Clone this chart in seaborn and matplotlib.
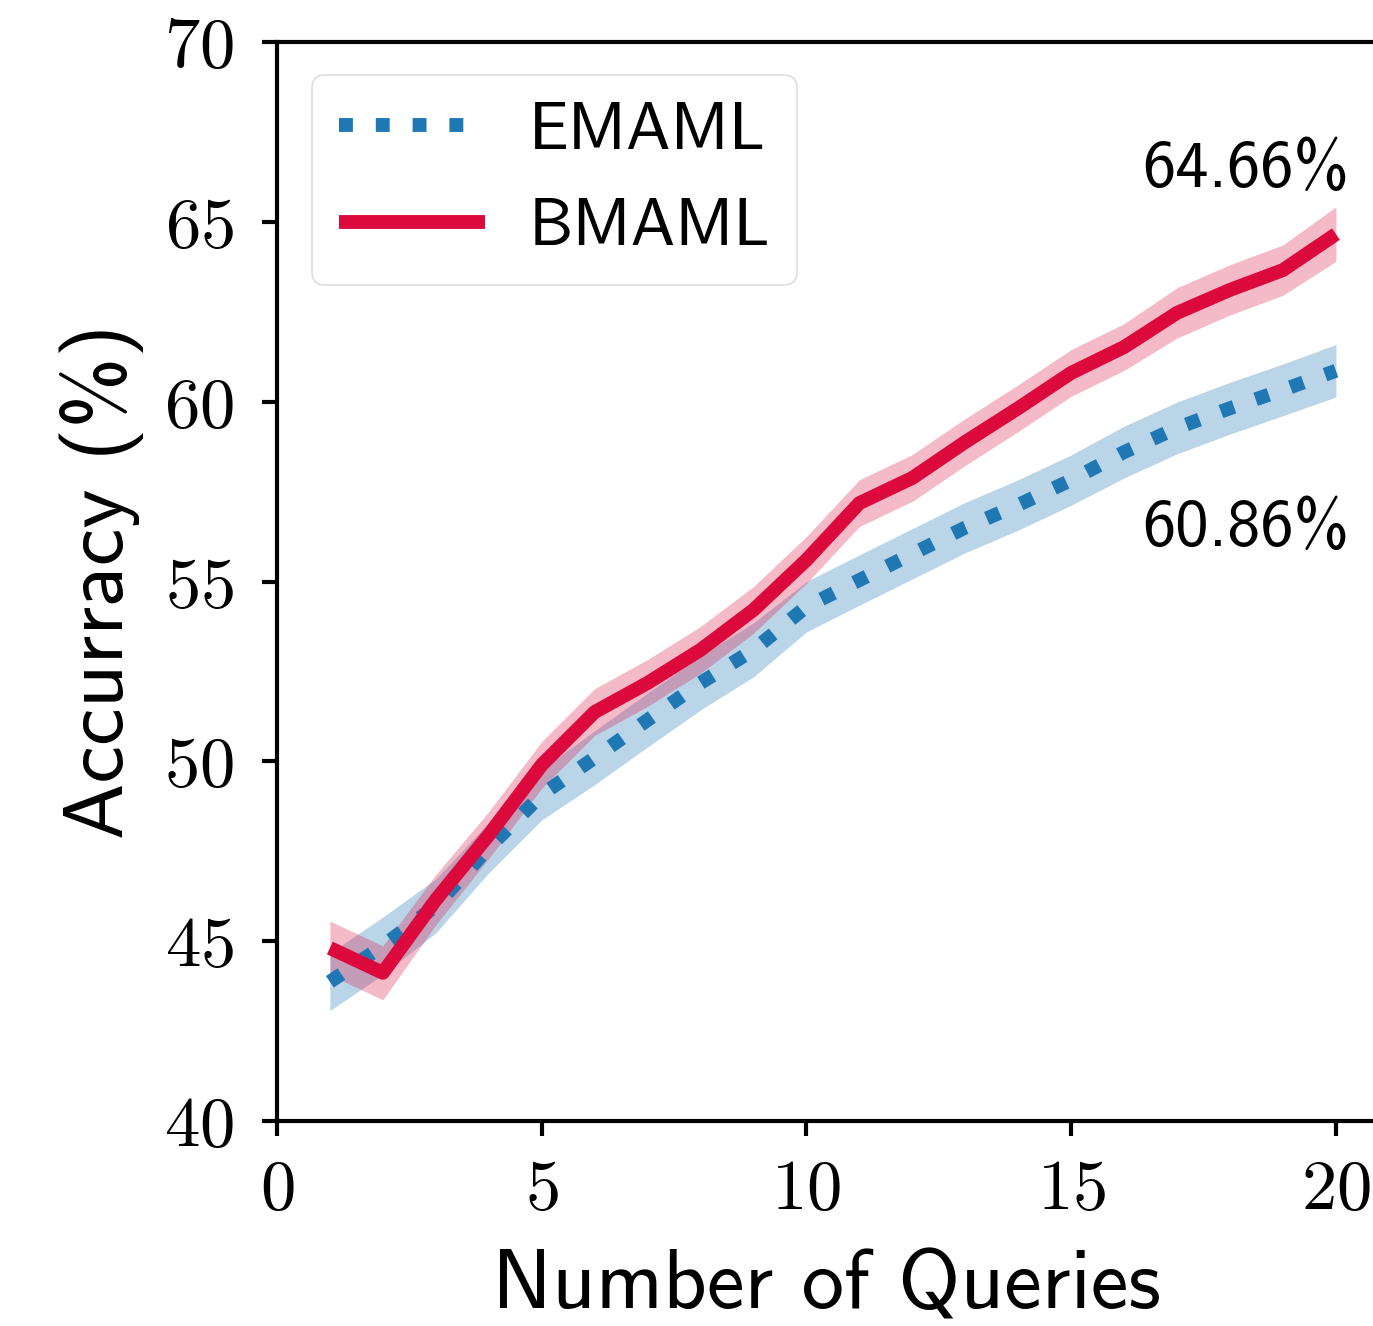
import matplotlib
matplotlib.use("Agg")
import matplotlib.pyplot as plt
import seaborn as sns
import numpy as np
import pandas as pd
from matplotlib.lines import Line2D

queries = list(range(1, 21))
emaml_mean = [43.87, 44.87, 45.98, 47.6, 49.07, 50.1, 51.15, 52.18, 53.1, 54.3,
              55.04, 55.77, 56.5, 57.13, 57.82, 58.6, 59.27, 59.82, 60.33, 60.86]
emaml_err = [0.8, 0.8, 0.75, 0.7, 0.7, 0.75, 0.75, 0.75, 0.75, 0.7,
             0.7, 0.7, 0.7, 0.7, 0.7, 0.72, 0.72, 0.72, 0.72, 0.73]
bmaml_mean = [44.81, 44.12, 46.15, 47.95, 49.9, 51.37, 52.18, 53.1, 54.21, 55.6,
              57.18, 57.88, 58.88, 59.82, 60.8, 61.52, 62.47, 63.11, 63.66, 64.66]
bmaml_err = [0.75, 0.75, 0.7, 0.65, 0.65, 0.65, 0.65, 0.65, 0.65, 0.65,
             0.65, 0.65, 0.65, 0.65, 0.65, 0.65, 0.7, 0.7, 0.7, 0.76]
series_names = ["EMAML", "BMAML"]
final_labels = ["64.66%", "60.86%"]
yticks = [40, 45, 50, 55, 60, 65, 70]
xticks = [0, 5, 10, 15, 20]

sns.set_theme(style="ticks")
plt.rcParams["mathtext.fontset"] = "cm"
plt.rcParams["font.family"] = ["cmss10", "DejaVu Sans"]
plt.rcParams["axes.unicode_minus"] = False
for k in ["text.color", "axes.labelcolor", "xtick.color", "ytick.color", "axes.edgecolor"]:
    plt.rcParams[k] = "black"

df = pd.DataFrame({
    "Queries": queries * 2,
    "Accuracy": emaml_mean + bmaml_mean,
    "Method": [series_names[0]] * 20 + [series_names[1]] * 20,
})

fig = plt.figure(figsize=(13.73, 13.26), dpi=100)
ax_w = 0.84
ax = fig.add_axes([0.2017, 0.1546, ax_w, 0.8137])

blue = "#1f77b4"
red = "#dc0a3c"
palette = {"EMAML": blue, "BMAML": red}
sns.lineplot(data=df, x="Queries", y="Accuracy", hue="Method", style="Method",
             palette=palette, dashes={"EMAML": (1, 1.65), "BMAML": ""},
             linewidth=10, ax=ax, legend=False)
for line in ax.lines:
    line.set_dash_capstyle("butt")
    line.set_solid_capstyle("butt")

q = np.array(queries)
ax.fill_between(q, np.array(emaml_mean) - np.array(emaml_err),
                np.array(emaml_mean) + np.array(emaml_err), color=blue, alpha=0.3, lw=0)
ax.fill_between(q, np.array(bmaml_mean) - np.array(bmaml_err),
                np.array(bmaml_mean) + np.array(bmaml_err), color=red, alpha=0.28, lw=0)

ax.set_xlim(0, ax_w * 1373 / 52.95)
ax.set_ylim(40, 70)
ax.set_xticks(xticks)
ax.set_xticklabels([f"${v}$" for v in xticks])
ax.set_yticks(yticks)
ax.set_yticklabels([f"${v}$" for v in yticks])
ax.tick_params(axis="both", labelsize=51, width=3, length=11, direction="out", color="black")
ax.tick_params(axis="y", pad=20)
ax.tick_params(axis="x", pad=16)

for s in ax.spines.values():
    s.set_linewidth(3)
    s.set_color("black")
ax.spines["right"].set_visible(False)

axw = ax_w * 1373
axh = 0.8137 * 1326
ax.set_xlabel("Number of Queries", fontsize=61)
ax.xaxis.set_label_coords((827 - 277) / axw, -(1308 - 1121) / axh)
ax.xaxis.label.set_va("baseline")
ax.set_ylabel("Accurracy (%)", fontsize=61, labelpad=14)

ax.text(20.25, 66.45, final_labels[0], ha="right", va="center", fontsize=48)
ax.text(20.25, 56.47, final_labels[1], ha="right", va="center", fontsize=48)

handles = [Line2D([0], [0], color=blue, lw=10, linestyle=(0, (1, 1.65)), dash_capstyle="butt"),
           Line2D([0], [0], color=red, lw=10, solid_capstyle="butt")]
leg = ax.legend(handles, series_names, loc="upper left", fontsize=48, frameon=True,
                handlelength=2.2, borderpad=0.4, labelspacing=0.55, handletextpad=0.65,
                borderaxespad=0, bbox_to_anchor=((312 - 277) / axw, (1121 - 75) / axh),
                fancybox=True)
leg.get_frame().set_edgecolor("#dddddd")
leg.get_frame().set_linewidth(1.5)

fig.savefig("out.png", dpi=100, facecolor="white")
